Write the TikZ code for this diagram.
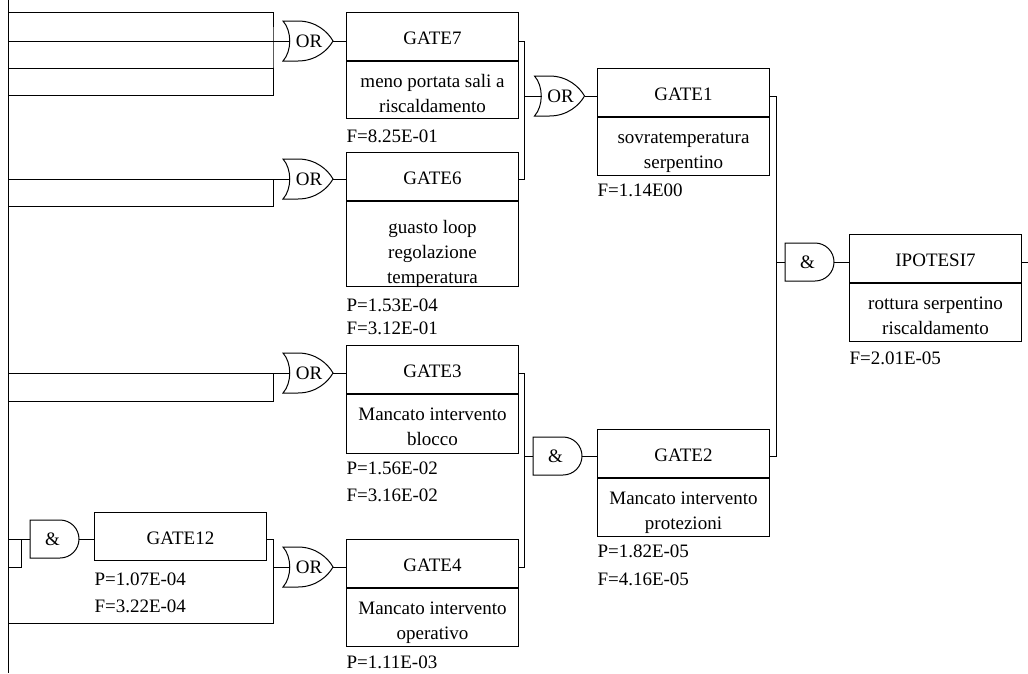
\documentclass[tikz,border=0pt]{standalone}
\usepackage{fontspec}
\setmainfont{Liberation Serif}
\usetikzlibrary{calc}
\tikzset{
  lbl/.style={font=\fontsize{19}{25}\selectfont},
  ttl/.style={draw, lbl, minimum width=172pt, minimum height=48pt, anchor=north west, inner sep=0pt, text height=16pt, text depth=0pt},
  dsc/.style={draw, minimum width=172pt, anchor=north west, inner sep=0pt},
  dtx/.style={lbl, anchor=north, inner sep=0pt, align=center},
  val/.style={lbl, anchor=west, inner sep=0pt},
  gtxt/.style={lbl, inner sep=0pt},
  orshape/.pic={
    \draw (-25,-20) -- (-10,-20) .. controls (8,-20) and (20,-9) .. (25,0)
          .. controls (20,9) and (8,20) .. (-10,20) -- (-25,20)
          .. controls (-16,10) and (-16,-10) .. cycle;
    \node[gtxt] (-t) at (1,0) {OR};
    \coordinate (-w) at (-18,0);
    \coordinate (-e) at (25,0);
  },
  andshape/.pic={
    \draw (-24.5,-19) -- (5.5,-19) arc[start angle=90, end angle=-90, radius=19pt] -- (-24.5,19) -- cycle;
    \node[gtxt] (-t) at (-2,0) {\&};
    \coordinate (-w) at (-24.5,0);
    \coordinate (-e) at (24.5,0);
  }
}
\begin{document}
\begin{tikzpicture}[x=1pt, y=-1pt, line width=1pt]
\useasboundingbox (0,0) rectangle (1028,673);

% gates
\pic (g7or) at (308,41) {orshape};
\pic (g6or) at (308,179) {orshape};
\pic (g1or) at (559.5,96) {orshape};
\pic (g3or) at (308,373) {orshape};
\pic (g4or) at (308,567) {orshape};
\pic (g2and) at (557.5,456) {andshape};
\pic (ipand) at (809.5,262) {andshape};
\pic (g12and) at (54.5,539) {andshape};

% boxes
\node[ttl] (g7) at (346,12) {GATE7};
\node[dsc, minimum height=57pt] (g7d) at (g7.south west) {};
\node[dtx] (g7dt) at (g7d.north) {\rule{0pt}{26pt}meno portata sali a\\riscaldamento};
\node[val] (g7f) at (346,136) {F=8.25E-01};

\node[ttl] (g6) at (346,152) {GATE6};
\node[dsc, minimum height=85pt] (g6d) at (g6.south west) {};
\node[dtx] (g6dt) at (g6d.north) {\rule{0pt}{32pt}guasto loop\\regolazione\\temperatura};
\node[val] (g6p) at (346,305) {P=1.53E-04};
\node[val] (g6f) at (346,328) {F=3.12E-01};

\node[ttl] (g1) at (597,68) {GATE1};
\node[dsc, minimum height=58pt] (g1d) at (g1.south west) {};
\node[dtx] (g1dt) at (g1d.north) {\rule{0pt}{26pt}sovratemperatura\\serpentino};
\node[val] (g1f) at (597,190) {F=1.14E00};

\node[ttl] (ip) at (849,234) {IPOTESI7};
\node[dsc, minimum height=58pt] (ipd) at (ip.south west) {};
\node[dtx] (ipdt) at (ipd.north) {\rule{0pt}{26pt}rottura serpentino\\riscaldamento};
\node[val] (ipf) at (849,358) {F=2.01E-05};

\node[ttl] (g3) at (346,345) {GATE3};
\node[dsc, minimum height=59pt] (g3d) at (g3.south west) {};
\node[dtx] (g3dt) at (g3d.north) {\rule{0pt}{26pt}Mancato intervento\\blocco};
\node[val] (g3p) at (346,468) {P=1.56E-02};
\node[val] (g3f) at (346,495) {F=3.16E-02};

\node[ttl] (g2) at (597,429) {GATE2};
\node[dsc, minimum height=58pt] (g2d) at (g2.south west) {};
\node[dtx] (g2dt) at (g2d.north) {\rule{0pt}{26pt}Mancato intervento\\protezioni};
\node[val] (g2p) at (597,551) {P=1.82E-05};
\node[val] (g2f) at (597,579) {F=4.16E-05};

\node[ttl] (g4) at (346,539) {GATE4};
\node[dsc, minimum height=58pt] (g4d) at (g4.south west) {};
\node[dtx] (g4dt) at (g4d.north) {\rule{0pt}{26pt}Mancato intervento\\operativo};
\node[val] (g4p) at (346,662) {P=1.11E-03};

\node[ttl] (g12) at (94,512) {GATE12};
\node[val] (g12p) at (94,579) {P=1.07E-04};
\node[val] (g12f) at (94,606) {F=3.22E-04};

% coordinates
\coordinate (ltop) at (8,0);
\coordinate (lbot) at (8,673);
\coordinate (c7a) at (8,12);
\coordinate (c7b) at (8,68);
\coordinate (c7c) at (8,95);
\coordinate (k7) at (273,41);
\coordinate (c6) at (8,206);
\coordinate (k6) at (273,179);
\coordinate (c3) at (8,401);
\coordinate (k3) at (273,373);
\coordinate (c4) at (8,623);
\coordinate (k4) at (273,567);
\coordinate (k12) at (273,539);
\coordinate (c12) at (8,567);
\coordinate (k12b) at (21,539);
\coordinate (j1) at (524,96);
\coordinate (j3) at (776,262);
\coordinate (rout) at (1028,262);

% left rail
\draw (ltop) -- (lbot);

% inputs of GATE7
\draw (c7a) -| (k7) |- (c7c);
\draw (c7b) -- (c7b -| k7);
\draw (g7or-w) -- (g7or-w -| ltop);
% inputs of GATE6
\draw (g6or-w) -- (g6or-w -| ltop);
\draw (c6) -| (k6);
% inputs of GATE3
\draw (g3or-w) -- (g3or-w -| ltop);
\draw (c3) -| (k3);
% inputs of GATE4
\draw (g4or-w) -- (k4);
\draw (g12and-e -| g12.east) -- (k12) |- (c4);
% inputs of GATE12
\draw (g12and-w) -- (g12and-w -| ltop);
\draw (c12) -| (k12b);

% gate outputs to boxes
\draw (g7or-e) -- (g7or-e -| g7.west);
\draw (g6or-e) -- (g6or-e -| g6.west);
\draw (g1or-e) -- (g1or-e -| g1.west);
\draw (g3or-e) -- (g3or-e -| g3.west);
\draw (g4or-e) -- (g4or-e -| g4.west);
\draw (g2and-e) -- (g2and-e -| g2.west);
\draw (ipand-e) -- (ipand-e -| ip.west);
\draw (g12and-e) -- (g12and-e -| g12.west);

% box outputs to next gates
\draw (g7or-e -| g7.east) -| (g6or-e -| j1) -- (g6or-e -| g6.east);
\draw (g1or-w) -- (g1or-w -| j1);
\draw (g3or-e -| g3.east) -| (g4or-e -| j1) -- (g4or-e -| g4.east);
\draw (g2and-w) -- (g2and-w -| j1);
\draw (g1or-e -| g1.east) -| (g2and-e -| j3) -- (g2and-e -| g2.east);
\draw (ipand-w) -- (ipand-w -| j3);
\draw (ipand-e -| ip.east) -- (rout);
\end{tikzpicture}
\end{document}
